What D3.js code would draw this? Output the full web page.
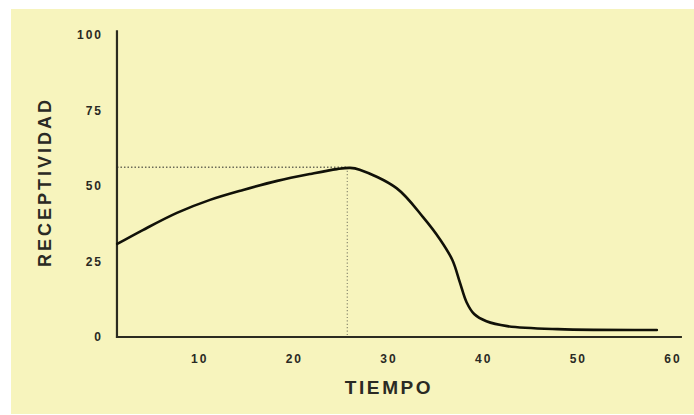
<!DOCTYPE html>
<html>
<head>
<meta charset="utf-8">
<script src="https://cdn.jsdelivr.net/npm/d3@7"></script>
<style>
  html, body { margin: 0; padding: 0; background: #ffffff; }
  svg { display: block; }
  text { font-family: "Liberation Sans", Arial, Helvetica, sans-serif; font-weight: bold; fill: #2a2a24; }
</style>
</head>
<body>
<div id="chart"></div>
<script>
// ---- data ----
const xTicks = [10, 20, 30, 40, 50, 60];
const yTicks = [0, 25, 50, 75, 100];
const time = [1.4, 4.1, 7.7, 11.2, 14.7, 18.3, 21.8, 24.6, 26.0, 27.0, 30.9, 33.7, 35.5, 36.8, 37.6, 38.3, 39.1, 40.4, 42.6, 47.9, 58.4];
const receptividad = [30.8, 35.4, 41.1, 45.4, 48.7, 51.7, 54.0, 55.6, 56.0, 55.4, 49.3, 39.7, 32.3, 25.5, 18.0, 11.5, 7.6, 5.2, 3.6, 2.6, 2.3];
const peakTime = 25.7;
const peakValue = 56.2;
const xLabel = "TIEMPO";
const yLabel = "RECEPTIVIDAD";

// ---- layout ----
const W = 694, H = 415;
const svg = d3.select("#chart").append("svg").attr("width", W).attr("height", H);

svg.append("rect").attr("x", 11).attr("y", 9).attr("width", W - 11).attr("height", H - 10)
   .attr("fill", "#f7f4bd");

const x = d3.scaleLinear().domain([0, 60]).range([104, 672]);
const y = d3.scaleLinear().domain([0, 100]).range([337, 35]);

const xMin = 1.37, xMax = 61.05, yMax = 101.6;

// dotted guide lines to the peak
svg.append("line")
  .attr("x1", x(xMin)).attr("x2", x(peakTime))
  .attr("y1", y(peakValue)).attr("y2", y(peakValue))
  .attr("stroke", "#6a6a58").attr("stroke-width", 1.5).attr("stroke-dasharray", "1.5,2");
svg.append("line")
  .attr("x1", x(peakTime)).attr("x2", x(peakTime))
  .attr("y1", y(peakValue)).attr("y2", y(0))
  .attr("stroke", "#8a8a70").attr("stroke-width", 1.2).attr("stroke-dasharray", "1.2,2.2");

// axes lines
svg.append("line")
  .attr("x1", x(xMin)).attr("x2", x(xMin))
  .attr("y1", y(yMax)).attr("y2", y(0) + 1)
  .attr("stroke", "#2b2b20").attr("stroke-width", 2.2);
svg.append("line")
  .attr("x1", x(xMin) - 1).attr("x2", x(xMax))
  .attr("y1", y(0)).attr("y2", y(0))
  .attr("stroke", "#2b2b20").attr("stroke-width", 2.2);

// tick labels
svg.selectAll("text.xt").data(xTicks).enter().append("text")
  .attr("class", "xt")
  .attr("x", d => x(d) + 1).attr("y", 363)
  .attr("text-anchor", "middle")
  .style("font-size", "12px").style("letter-spacing", "2px")
  .text(d => d);

svg.selectAll("text.yt").data(yTicks).enter().append("text")
  .attr("class", "yt")
  .attr("x", 103).attr("y", d => y(d) + 4)
  .attr("text-anchor", "end")
  .style("font-size", "12px").style("letter-spacing", "2px")
  .text(d => d);

// axis titles
svg.append("text")
  .attr("x", 389).attr("y", 394)
  .attr("text-anchor", "middle")
  .style("font-size", "19px").style("letter-spacing", "2.6px")
  .text(xLabel);

svg.append("text")
  .attr("transform", "translate(51,182) rotate(-90)")
  .attr("text-anchor", "middle")
  .style("font-size", "18px").style("letter-spacing", "3px")
  .text(yLabel);

// curve
const pts = time.map((t, i) => [t, receptividad[i]]);
const line = d3.line().x(d => x(d[0])).y(d => y(d[1])).curve(d3.curveCatmullRom.alpha(0.5));
svg.append("path").datum(pts)
  .attr("d", line)
  .attr("fill", "none")
  .attr("stroke", "#111108")
  .attr("stroke-width", 2.6)
  .attr("stroke-linejoin", "round")
  .attr("stroke-linecap", "round");
</script>
</body>
</html>
